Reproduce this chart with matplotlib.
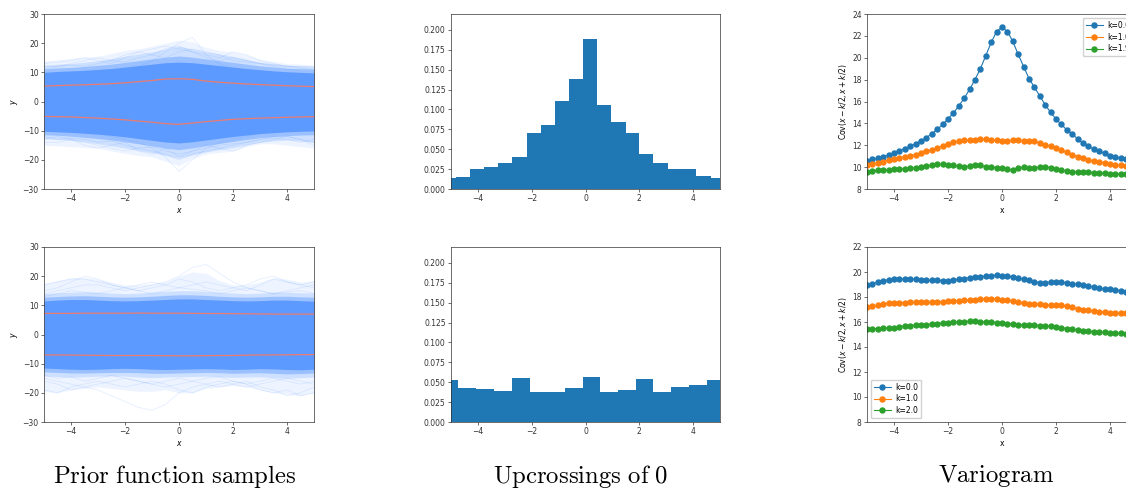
import matplotlib
matplotlib.use("Agg")
import matplotlib.pyplot as plt
import numpy as np

# --- shared grids -----------------------------------------------------------
x_band = [-5.0, -4.5, -4.0, -3.5, -3.0, -2.5, -2.0, -1.5, -1.0, -0.5, 0.0,
          0.5, 1.0, 1.5, 2.0, 2.5, 3.0, 3.5, 4.0, 4.5, 5.0]
x_vario = [round(-5.0 + 0.2 * i, 1) for i in range(51)]

# --- prior samples, row 1 (bump at 0) ---------------------------------------
core_up_1 = [10.0, 10.3, 10.5, 10.7, 11.0, 11.3, 11.8, 12.3, 12.8, 13.3, 13.5,
             13.3, 12.8, 12.3, 11.8, 11.3, 10.9, 10.5, 10.2, 10.0, 9.8]
core_lo_1 = [-10.2, -10.4, -10.6, -10.9, -11.2, -11.6, -12.1, -12.7, -13.3, -13.9, -14.2,
             -13.8, -13.2, -12.6, -12.0, -11.5, -11.0, -10.7, -10.4, -10.2, -10.1]
inner_up_1 = [11.2, 11.5, 11.7, 12.0, 12.4, 12.8, 13.4, 14.0, 14.6, 15.2, 15.6,
              15.2, 14.6, 14.0, 13.4, 12.8, 12.2, 11.8, 11.4, 11.2, 11.0]
inner_lo_1 = [-11.4, -11.6, -11.9, -12.3, -12.7, -13.2, -13.8, -14.5, -15.2, -16.0, -16.5,
              -15.9, -15.1, -14.4, -13.7, -13.0, -12.4, -12.0, -11.7, -11.5, -11.4]
mid_up_1 = [12.5, 12.8, 13.0, 13.5, 14.0, 14.7, 15.5, 16.3, 17.0, 18.0, 19.0,
            18.0, 17.0, 16.3, 15.5, 14.5, 13.5, 13.0, 12.5, 12.2, 12.0]
mid_lo_1 = [-12.8, -13.0, -13.3, -13.8, -14.5, -15.2, -16.0, -16.8, -17.5, -18.5, -19.5,
            -18.3, -17.3, -16.5, -15.8, -14.8, -14.0, -13.5, -13.2, -13.5, -14.0]
out_up_1 = [14.0, 14.3, 14.8, 15.3, 15.5, 16.5, 17.5, 18.0, 19.0, 20.0, 21.0,
            20.5, 18.5, 17.5, 17.0, 16.0, 14.5, 13.8, 13.0, 12.8, 12.5]
out_lo_1 = [-15.0, -15.2, -15.5, -15.8, -16.0, -17.0, -17.8, -18.5, -19.0, -20.5, -22.0,
            -19.5, -18.0, -17.5, -17.0, -15.5, -14.5, -14.5, -15.0, -15.5, -16.0]
std_up_1 = [5.3, 5.45, 5.6, 5.75, 5.9, 6.1, 6.4, 6.8, 7.2, 7.7, 7.8,
            7.6, 7.0, 6.6, 6.3, 6.0, 5.8, 5.6, 5.4, 5.25, 5.1]
std_lo_1 = [-5.1, -5.2, -5.3, -5.5, -5.7, -6.0, -6.3, -6.7, -7.1, -7.6, -7.8,
            -7.4, -6.9, -6.5, -6.1, -5.9, -5.7, -5.55, -5.4, -5.3, -5.2]
faint_1 = [
    [6, 7, 8, 8.5, 9, 10, 11, 12, 14, 17, 20, 22, 16, 13, 11, 10, 9, 8, 7, 6.5, 6],
    [-8, -9, -10, -10, -11, -12, -13, -14, -16, -19, -24, -20, -16, -14, -13, -12, -11, -10, -10, -9, -9],
    [13, 13.5, 14, 15, 14, 13, 15, 17, 16, 18, 19, 17, 16, 15, 17, 16, 14, 13, 12, 12, 12],
    [-14, -14, -13, -15, -16, -15, -14, -17, -18, -16, -19, -17, -15, -16, -17, -15, -14, -13, -12, -13, -15],
    [12, 12, 13, 14, 15, 14, 16, 17, 18, 19, 18, 17, 15, 14, 15, 14, 13, 12, 11, 11, 11],
    [-13, -12, -13, -14, -15, -16, -17, -16, -17, -18, -20, -18, -17, -16, -15, -14, -13, -12, -12, -13, -14],
    [11, 12, 12.5, 12, 13, 14, 13.5, 15, 16, 15, 17, 18, 17, 16, 14, 13.5, 13, 12.5, 12, 11.5, 11],
    [-12, -13, -12.5, -13, -14, -13.5, -15, -16, -15.5, -17, -18, -17, -16, -15, -14.5, -14, -13, -12.5, -13, -14, -13],
]

# --- prior samples, row 2 -----------------------------------------------------
core_up_2 = [11.5, 11.8, 12.0, 12.0, 11.8, 11.6, 11.5, 11.6, 11.8, 12.0, 12.2,
             12.2, 12.0, 11.8, 11.6, 11.5, 11.6, 11.8, 11.8, 11.6, 11.4]
core_lo_2 = [-11.5, -11.7, -11.9, -12.0, -11.9, -11.7, -11.6, -11.7, -11.9, -12.0, -11.9,
             -11.8, -11.7, -11.8, -12.0, -11.9, -11.7, -11.8, -12.0, -12.1, -11.9]
inner_up_2 = [12.8, 13.0, 13.2, 13.3, 13.1, 12.9, 12.8, 12.9, 13.1, 13.4, 13.6,
              13.6, 13.4, 13.1, 12.9, 12.8, 12.9, 13.1, 13.1, 12.9, 12.8]
inner_lo_2 = [-12.8, -13.0, -13.2, -13.2, -13.1, -13.0, -13.0, -13.1, -13.3, -13.3, -13.2,
              -13.1, -13.0, -13.1, -13.3, -13.2, -13.1, -13.3, -13.5, -13.4, -13.2]
mid_up_2 = [14.0, 14.3, 14.5, 14.6, 14.5, 14.2, 14.0, 14.2, 14.5, 14.8, 15.0,
            15.0, 14.8, 14.5, 14.2, 14.0, 14.2, 14.5, 14.5, 14.3, 14.2]
mid_lo_2 = [-14.2, -14.4, -14.6, -14.5, -14.3, -14.2, -14.3, -14.6, -14.8, -14.6, -14.5,
            -14.4, -14.3, -14.5, -14.7, -14.6, -14.5, -14.8, -15.0, -14.8, -14.6]
out_up_2 = [17.5, 18.5, 19.5, 19.5, 19.0, 18.0, 17.0, 17.0, 17.5, 18.0, 20.0,
            21.5, 21.0, 18.5, 17.0, 17.0, 18.0, 19.5, 19.0, 18.0, 18.5]
out_lo_2 = [-19.5, -20.0, -19.0, -18.5, -18.0, -18.5, -19.0, -19.5, -19.5, -19.0, -20.0,
            -20.0, -18.5, -18.0, -17.5, -18.0, -19.0, -20.0, -20.5, -21.0, -20.0]
std_up_2 = [7.2, 7.25, 7.25, 7.3, 7.3, 7.3, 7.3, 7.35, 7.3, 7.3, 7.3,
            7.25, 7.2, 7.2, 7.15, 7.1, 7.05, 7.0, 7.0, 7.0, 7.0]
std_lo_2 = [-7.0, -7.0, -7.05, -7.1, -7.15, -7.2, -7.2, -7.2, -7.2, -7.25, -7.3,
            -7.3, -7.25, -7.2, -7.2, -7.1, -7.0, -7.0, -6.95, -6.9, -6.9]
faint_2 = [
    [14, 15, 16, 17, 17, 16, 15, 16, 17, 18, 20, 23, 24, 21, 18, 16, 15, 14, 15, 16, 17],
    [-15, -16, -17, -18, -19, -21, -23, -25, -26, -24, -20, -18, -17, -16, -17, -18, -17, -16, -15, -16, -17],
    [17, 18, 19, 19, 18, 17, 16, 17, 18, 17, 16, 17, 18, 17, 16, 15, 17, 19, 18, 17, 18],
    [-19, -20, -18, -17, -16, -17, -18, -17, -16, -17, -19, -20, -18, -17, -16, -17, -19, -20, -19, -21, -20],
    [15, 16, 18, 20, 19, 17, 16, 15, 16, 17, 19, 18, 16, 15, 16, 17, 19, 20, 18, 17, 16],
    [-16, -17, -19, -18, -17, -16, -15, -16, -17, -18, -17, -16, -17, -18, -17, -16, -18, -19, -21, -20, -18],
    [13, 14, 15, 14.5, 14, 15, 16, 15, 14, 15, 16, 15.5, 15, 14, 15, 16, 15, 14, 14.5, 15, 14],
    [-14, -15, -14.5, -16, -15, -14, -15, -16, -17, -16, -15, -16, -15, -14.5, -16, -17, -16, -15, -16, -17, -16],
]

# --- upcrossing histograms --------------------------------------------------
edges_1 = [-5.34, -4.81, -4.30, -3.79, -3.24, -2.72, -2.19, -1.65, -1.13, -0.61,
           -0.08, 0.43, 0.96, 1.49, 1.99, 2.52, 3.07, 3.60, 4.11, 4.65, 5.18]
dens_1 = [0.0134, 0.015, 0.025, 0.0276, 0.033, 0.040, 0.0707, 0.0808, 0.111, 0.138,
          0.189, 0.106, 0.0837, 0.0707, 0.0435, 0.033, 0.025, 0.025, 0.016, 0.0134]
edges_2 = [-5.39, -4.73, -4.07, -3.39, -2.72, -2.08, -1.41, -0.76, -0.11, 0.55,
           1.21, 1.86, 2.52, 3.17, 3.86, 4.50, 5.16]
dens_2 = [0.0523, 0.0423, 0.041, 0.0393, 0.0548, 0.038, 0.038, 0.0423, 0.0565, 0.038,
          0.040, 0.0536, 0.038, 0.0443, 0.046, 0.0523]

# --- variograms ---------------------------------------------------------------
vario_1 = {
    "k=0.0": [10.6, 10.7, 10.8, 10.95, 11.1, 11.3, 11.5, 11.7, 11.9, 12.15,
              12.4, 12.7, 13.05, 13.45, 13.9, 14.4, 14.95, 15.6, 16.3, 17.1,
              18.0, 19.0, 20.2, 21.4, 22.4, 22.8, 22.4, 21.5, 20.3, 19.2,
              18.1, 17.3, 16.5, 15.7, 15.0, 14.4, 13.9, 13.4, 13.0, 12.6,
              12.2, 11.9, 11.65, 11.45, 11.25, 11.05, 10.9, 10.8, 10.7, 10.6, 10.5],
    "k=1.0": [10.2, 10.3, 10.4, 10.5, 10.65, 10.75, 10.85, 10.95, 11.05, 11.15,
              11.3, 11.45, 11.6, 11.75, 11.95, 12.1, 12.3, 12.4, 12.45, 12.45,
              12.5, 12.55, 12.55, 12.5, 12.45, 12.4, 12.4, 12.45, 12.45, 12.4,
              12.4, 12.35, 12.2, 12.05, 11.9, 11.75, 11.55, 11.35, 11.15, 10.95,
              10.8, 10.65, 10.55, 10.45, 10.35, 10.3, 10.2, 10.15, 10.1, 10.05, 10.0],
    "k=1.9": [9.6, 9.65, 9.7, 9.72, 9.75, 9.8, 9.82, 9.85, 9.9, 9.95,
              10.0, 10.1, 10.2, 10.25, 10.25, 10.2, 10.15, 10.1, 10.05, 10.1,
              10.2, 10.15, 10.05, 10.0, 9.95, 9.9, 9.8, 9.7, 9.9, 10.0,
              9.95, 9.95, 10.0, 10.05, 9.95, 9.85, 9.75, 9.65, 9.6, 9.55,
              9.55, 9.55, 9.5, 9.5, 9.45, 9.4, 9.4, 9.35, 9.35, 9.3, 9.3],
}
vario_2 = {
    "k=0.0": [18.95, 19.05, 19.2, 19.3, 19.38, 19.42, 19.42, 19.44, 19.45, 19.42,
              19.36, 19.33, 19.33, 19.33, 19.32, 19.32, 19.35, 19.42, 19.48, 19.55,
              19.6, 19.63, 19.68, 19.72, 19.73, 19.72, 19.68, 19.62, 19.52, 19.42,
              19.33, 19.22, 19.15, 19.14, 19.2, 19.22, 19.18, 19.12, 19.08, 19.02,
              18.97, 18.88, 18.78, 18.7, 18.66, 18.62, 18.58, 18.5, 18.44, 18.38, 18.32],
    "k=1.0": [17.2, 17.25, 17.33, 17.42, 17.5, 17.55, 17.55, 17.56, 17.57, 17.6,
              17.62, 17.6, 17.58, 17.6, 17.64, 17.67, 17.7, 17.72, 17.74, 17.77,
              17.8, 17.84, 17.87, 17.87, 17.84, 17.8, 17.74, 17.66, 17.57, 17.5,
              17.46, 17.43, 17.41, 17.38, 17.36, 17.36, 17.33, 17.27, 17.17, 17.07,
              17.0, 16.93, 16.87, 16.82, 16.78, 16.74, 16.71, 16.7, 16.69, 16.68, 16.67],
    "k=2.0": [15.48, 15.47, 15.48, 15.5, 15.53, 15.56, 15.62, 15.68, 15.72, 15.74,
              15.77, 15.8, 15.83, 15.88, 15.92, 15.96, 15.98, 16.0, 16.03, 16.06,
              16.06, 16.04, 16.0, 15.98, 15.96, 15.93, 15.88, 15.84, 15.8, 15.76,
              15.74, 15.73, 15.72, 15.7, 15.67, 15.62, 15.55, 15.48, 15.42, 15.37,
              15.32, 15.27, 15.23, 15.2, 15.17, 15.15, 15.13, 15.1, 15.08, 15.06, 15.05],
}

captions = ["Prior function samples", "Upcrossings of 0", "Variogram"]

# --- styling ------------------------------------------------------------------
W, H = 1126, 488
plt.rcParams.update({
    "font.size": 5.5,
    "axes.linewidth": 0.5,
    "axes.edgecolor": "#333333",
    "xtick.major.size": 2.0,
    "ytick.major.size": 2.0,
    "xtick.major.width": 0.5,
    "ytick.major.width": 0.5,
    "xtick.major.pad": 1.8,
    "ytick.major.pad": 1.8,
    "xtick.color": "#333333",
    "ytick.color": "#333333",
    "axes.labelpad": 2.0,
})

fig = plt.figure(figsize=(W / 100, H / 100), dpi=100)


def add_axes(left, top, width=270, height=175):
    # pixel box -> figure fraction
    return fig.add_axes([left / W, 1 - (top + height) / H, width / W, height / H])


band_c = "#5c9aff"
red_c = "#ec7b70"


def draw_samples(ax, core, inner, mid, out, std, faint):
    ax.fill_between(x_band, out[1], out[0], color=band_c, alpha=0.10, lw=0)
    ax.fill_between(x_band, mid[1], mid[0], color=band_c, alpha=0.22, lw=0)
    for s in faint:
        ax.plot(x_band, s, color=band_c, alpha=0.16, lw=0.6)
    ax.fill_between(x_band, inner[1], inner[0], color=band_c, alpha=0.45, lw=0)
    ax.fill_between(x_band, core[1], core[0], color=band_c, lw=0)
    ax.plot(x_band, std[0], color=red_c, lw=0.9)
    ax.plot(x_band, std[1], color=red_c, lw=0.9)
    ax.set_xlim(-5, 5)
    ax.set_ylim(-30, 30)
    ax.set_yticks(np.arange(-30, 31, 10))
    ax.set_xticks([-4, -2, 0, 2, 4])
    ax.set_xlabel("$x$")
    ax.set_ylabel("$y$")


def draw_hist(ax, edges, dens):
    ax.stairs(dens, edges, fill=True, color="#1f77b4")
    ax.set_xlim(-5, 5)
    ax.set_ylim(0, 0.22)
    ax.set_yticks(np.arange(0, 0.201, 0.025))
    ax.yaxis.set_major_formatter(matplotlib.ticker.FormatStrFormatter("%.3f"))
    ax.set_xticks([-4, -2, 0, 2, 4])


def draw_vario(ax, series, ylim, loc):
    for label, vals in series.items():
        ax.plot(x_vario, vals, marker="o", ms=3.6, lw=0.8, label=label)
    ax.set_xlim(-5, 5)
    ax.set_ylim(*ylim)
    ax.set_yticks(np.arange(ylim[0], ylim[1] + 0.1, 2))
    ax.set_xticks([-4, -2, 0, 2, 4])
    ax.set_xlabel("x")
    ax.set_ylabel("Cov$(x - k/2, x + k/2)$")
    ax.legend(loc=loc, fontsize=5.5, handlelength=2.2, borderpad=0.4,
              labelspacing=0.35, handletextpad=0.6, framealpha=0.9)


ax = add_axes(44, 14)
draw_samples(ax, (core_up_1, core_lo_1), (inner_up_1, inner_lo_1), (mid_up_1, mid_lo_1),
             (out_up_1, out_lo_1), (std_up_1, std_lo_1), faint_1)
ax = add_axes(44, 247)
draw_samples(ax, (core_up_2, core_lo_2), (inner_up_2, inner_lo_2), (mid_up_2, mid_lo_2),
             (out_up_2, out_lo_2), (std_up_2, std_lo_2), faint_2)

ax = add_axes(451, 14, width=269)
draw_hist(ax, edges_1, dens_1)
ax = add_axes(451, 247, width=269)
draw_hist(ax, edges_2, dens_2)

ax = add_axes(867, 14)
draw_vario(ax, vario_1, (8, 24), "upper right")
ax = add_axes(867, 247)
draw_vario(ax, vario_2, (8, 22), "lower left")

# captions under each column
for cx, txt in zip([175, 581, 996], captions):
    fig.text(cx / W, 1 - 476 / H, r"$\mathrm{" + txt.replace(" ", r"\ ") + "}$",
             ha="center", va="center", fontsize=17.8, math_fontfamily="cm")

fig.savefig("out.png", dpi=100)
